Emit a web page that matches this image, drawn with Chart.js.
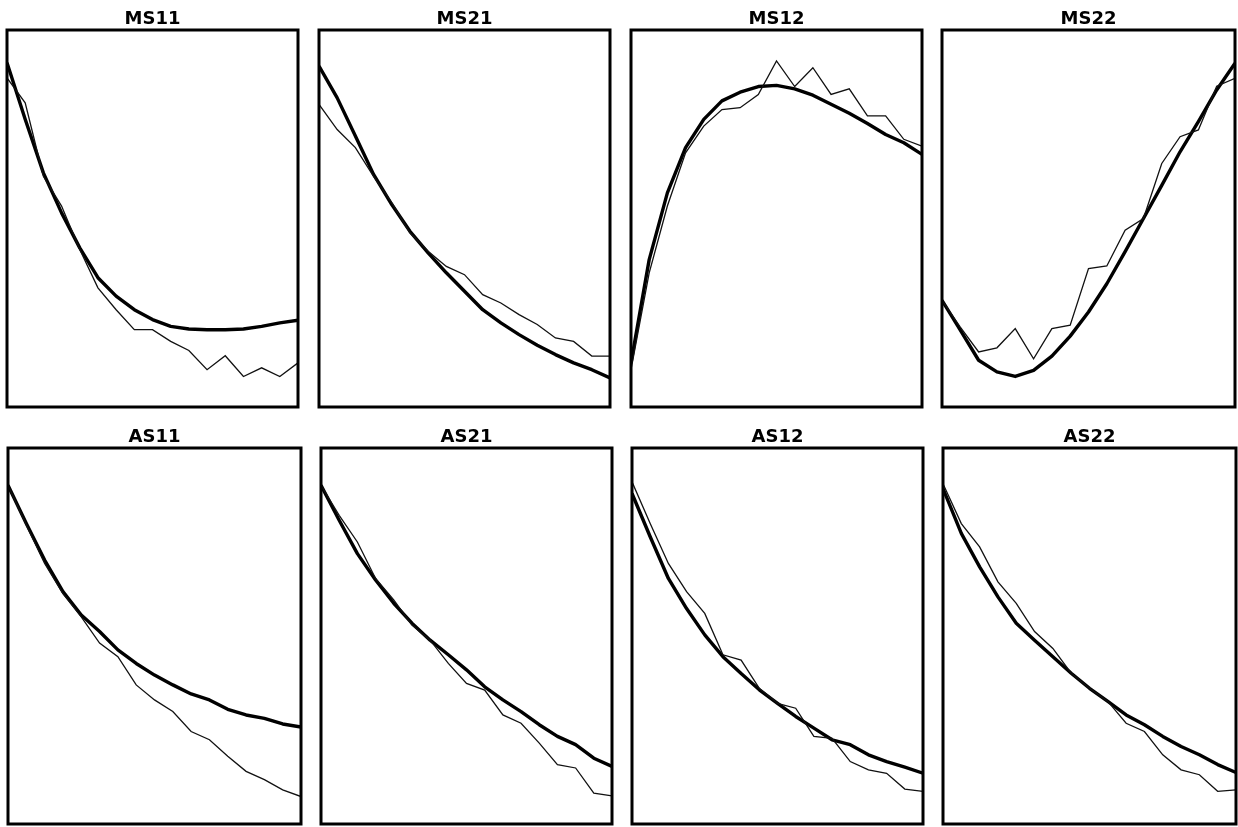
<!DOCTYPE html>
<html>
<head>
<meta charset="utf-8">
<script src="https://cdn.jsdelivr.net/npm/chart.js@4/dist/chart.umd.min.js"></script>
<style>
  html, body { margin: 0; padding: 0; background: #fff; }
  body { width: 1238px; height: 827px; position: relative; overflow: hidden; }
  .panel { position: absolute; }
</style>
</head>
<body>
<script>
// x positions (17 samples per panel)
const xIndex = [0,1,2,3,4,5,6,7,8,9,10,11,12,13,14,15,16];

const titles = ["MS11","MS21","MS12","MS22","AS11","AS21","AS12","AS22"];

// Smooth (thick) model curves (0 = box bottom, 100 = box top)
const fitMS11 = [91.3,76.3,62.1,51.5,42.2,34.3,29.4,25.8,23.2,21.4,20.7,20.5,20.5,20.7,21.4,22.3,23.0];
const fitMS21 = [90.4,82.0,71.9,61.7,53.7,46.6,40.9,35.6,30.7,25.8,22.3,19.2,16.4,13.9,11.7,9.9,7.7];
const fitMS12 = [11.7,39.1,56.8,68.8,76.3,81.2,83.5,85.0,85.3,84.4,82.7,80.3,77.9,75.2,72.3,70.1,67.0];
const fitMS22 = [28.3,20.4,12.4,9.3,8.1,9.7,13.5,18.8,25.2,32.7,41.2,50.0,58.8,67.7,75.7,84.1,91.2];
const fitAS11 = [90.1,79.9,70.2,61.8,55.6,51.2,46.3,42.7,39.6,37.0,34.6,33.0,30.5,29.0,28.1,26.6,25.8];
const fitAS21 = [90.1,80.8,71.9,64.9,58.7,53.4,48.9,45.0,41.0,36.5,33.0,29.9,26.4,23.3,21.1,17.5,15.3];
const fitAS12 = [87.9,76.4,65.3,57.3,50.3,44.5,40.0,35.7,32.1,28.6,25.5,22.4,21.1,18.4,16.6,15.1,13.5];
const fitAS22 = [89.2,77.3,68.4,60.4,53.4,48.9,44.5,40.1,36.1,32.6,29.0,26.4,23.3,20.6,18.4,15.8,13.7];

// Jagged (thin) measured curves
const obsMS11 = [87.3,80.7,61.2,53.3,41.8,31.6,25.8,20.5,20.5,17.4,15.0,9.9,13.6,8.1,10.4,8.1,11.7];
const obsMS21 = [80.3,73.6,68.8,61.2,54.2,46.2,41.3,37.3,35.1,29.8,27.6,24.5,21.9,18.3,17.4,13.5,13.5];
const obsMS12 = [9.9,35.6,53.3,67.4,74.5,78.9,79.4,82.9,91.8,85.0,90.0,82.9,84.4,77.2,77.2,71.0,69.2];
const obsMS22 = [28.3,21.2,14.6,15.7,20.8,12.8,20.8,21.7,36.7,37.4,46.9,50.0,64.6,71.7,73.5,85.1,87.2];
const obsAS11 = [90.1,79.5,69.3,61.3,55.1,48.1,44.5,37.0,33.0,29.9,24.6,22.4,18.0,14.0,11.8,9.1,7.3];
const obsAS21 = [90.1,82.1,75.0,65.3,59.6,52.9,48.9,42.7,37.4,35.6,29.0,26.8,21.5,15.8,14.9,8.2,7.5];
const obsAS12 = [91.0,79.9,69.3,61.8,56.0,45.0,43.6,36.1,32.1,30.8,23.3,22.8,16.6,14.4,13.5,9.3,8.7];
const obsAS22 = [90.5,79.9,73.7,64.4,58.7,51.2,46.7,40.1,36.1,32.6,26.8,24.6,18.4,14.4,13.1,8.7,9.1];

const fits = [fitMS11, fitMS21, fitMS12, fitMS22, fitAS11, fitAS21, fitAS12, fitAS22];
const obs  = [obsMS11, obsMS21, obsMS12, obsMS22, obsAS11, obsAS21, obsAS12, obsAS22];

// panel boxes [left, right, top, bottom] in page pixels
const boxes = [
  [7,298,30,407],[319,610,30,407],[631,922,30,407],[942,1235,30,407],
  [8,301,448,824],[321,612,448,824],[632,923,448,824],[943,1236,448,824]
];

const frame = {
  id: 'frame',
  afterDatasetsDraw(chart) {
    const a = chart.chartArea, c = chart.ctx;
    c.save();
    c.strokeStyle = '#000';
    c.lineWidth = 3;
    c.strokeRect(a.left, a.top, a.right - a.left, a.bottom - a.top);
    c.restore();
  }
};

const PAD = 6, TOP = 31;
titles.forEach((t, i) => {
  const [l, r, tp, b] = boxes[i];
  const div = document.createElement('div');
  div.className = 'panel';
  div.style.left = (l - PAD) + 'px';
  div.style.top = (tp - TOP) + 'px';
  div.style.width = (r - l + 2 * PAD) + 'px';
  div.style.height = (b - tp + TOP + PAD) + 'px';
  const cv = document.createElement('canvas');
  div.appendChild(cv);
  document.body.appendChild(div);
  const pts = arr => arr.map((v, k) => ({x: xIndex[k], y: v}));
  new Chart(cv, {
    type: 'line',
    data: {
      datasets: [
        { data: pts(obs[i]), borderColor: '#111', borderWidth: 1.3, pointRadius: 0, tension: 0, fill: false },
        { data: pts(fits[i]), borderColor: '#000', borderWidth: 3.4, pointRadius: 0, tension: 0, fill: false, borderJoinStyle: 'round' }
      ]
    },
    options: {
      responsive: true,
      maintainAspectRatio: false,
      animation: false,
      events: [],
      layout: { padding: { left: PAD, right: PAD, top: 0.4, bottom: PAD } },
      plugins: {
        legend: { display: false },
        tooltip: { enabled: false },
        title: {
          display: true, text: t, color: '#000',
          font: { family: 'DejaVu Sans', weight: 'bold', size: 18, lineHeight: 1.2 },
          padding: { top: 9, bottom: 0 }
        }
      },
      scales: {
        x: { type: 'linear', min: 0, max: 16, display: false },
        y: { type: 'linear', min: 0, max: 100, display: false }
      }
    },
    plugins: [frame]
  });
});
</script>
</body>
</html>
